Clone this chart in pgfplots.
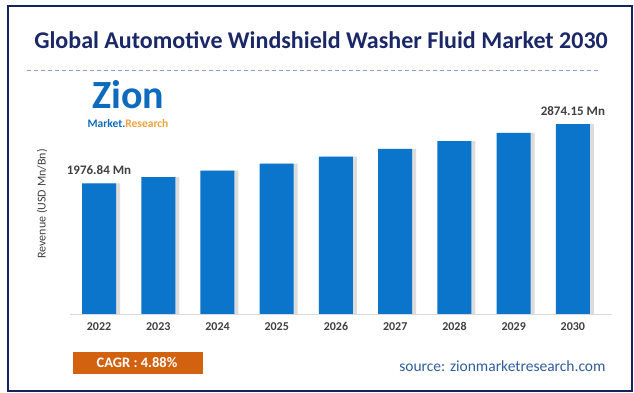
\documentclass[border=0pt]{standalone}
\usepackage{pgfplots}
\pgfplotsset{compat=1.18}
\usepackage{fontspec}
\setmainfont{Carlito}
\definecolor{barblue}{HTML}{0B75CC}
\definecolor{navy}{HTML}{1A2868}
\definecolor{frame}{HTML}{12245E}
\definecolor{cagr}{HTML}{D2620F}
\definecolor{srcblue}{HTML}{2F5E9E}
\definecolor{txtgray}{HTML}{404040}
\definecolor{logoorange}{HTML}{F2A23A}
\definecolor{dashblue}{HTML}{7FA3DC}
\pgfplotstableread{
x val lab
0 1976.84 {1976.84 Mn}
1 2071.6 {}
2 2170.9 {}
3 2275.0 {}
4 2384.1 {}
5 2498.4 {}
6 2618.2 {}
7 2743.7 {}
8 2874.15 {2874.15 Mn}
}\datatable
\begin{document}
\begin{tikzpicture}[x=1pt,y=1pt]
\fill[white] (0,0) rectangle (634,393);
\draw[frame, line width=1.5pt] (8,387) rectangle (632,2);
\node[font=\bfseries\fontsize{24}{26}\selectfont, text=navy] at (321,353) {Global Automotive Windshield Washer Fluid Market 2030};
\draw[color=dashblue, dash pattern=on 4pt off 3pt, line width=0.8pt] (27,323) -- (600,323);
% logo approximation
\node[font=\bfseries\fontsize{40}{40}\selectfont, text=barblue!85!navy] at (128,298) {Zion};
\node[font=\bfseries\fontsize{11.5}{12}\selectfont] at (128,269) {\textcolor{barblue!85!navy}{Market.}\textcolor{logoorange}{Research}};
\node[rotate=90, font=\fontsize{12}{14}\selectfont, text=txtgray] at (42,189) {Revenue (USD Mn/Bn)};
\begin{axis}[
  at={(70pt,79pt)}, anchor=south west,
  scale only axis, width=542pt, height=213pt,
  xmin=-0.49, xmax=8.66, ymin=0, ymax=3225,
  axis y line=none,
  axis x line*=bottom,
  x axis line style={draw=black!15, line width=0.8pt},
  xtick=data,
  xticklabels={2022,2023,2024,2025,2026,2027,2028,2029,2030},
  major tick length=0pt,
  xticklabel style={font=\bfseries\fontsize{12}{14}\selectfont, text=txtgray, yshift=-5pt},
  clip=false,
]
\addplot[ybar, bar width=34pt, bar shift=4pt, draw=none, fill=black!30, opacity=0.45] table[x=x,y=val] {\datatable};
\addplot[ybar, bar width=34pt, bar shift=0pt, draw=none, fill=barblue,
  point meta=explicit symbolic,
  nodes near coords,
  every node near coord/.append style={font=\bfseries\fontsize{13}{15}\selectfont, text=txtgray, yshift=5pt}
] table[x=x,y=val,meta=lab] {\datatable};
\end{axis}
\fill[cagr] (73,41) rectangle (203,19);
\node[font=\bfseries\fontsize{14.5}{16}\selectfont, text=white] at (137,30) {CAGR : 4.88\%};
\node[anchor=east, font=\fontsize{15.5}{17}\selectfont, text=srcblue] at (609,27) {source: zionmarketresearch.com};
\end{tikzpicture}
\end{document}
